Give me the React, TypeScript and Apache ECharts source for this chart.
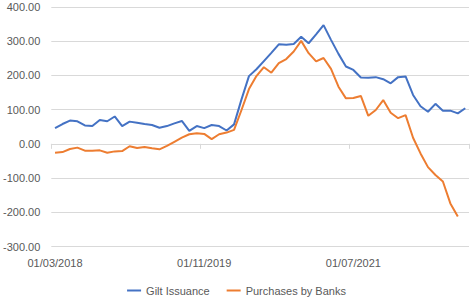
import React, { useEffect, useRef } from "react";
import * as echarts from "echarts";

const startYear = 2018;
const startMonth = 3;
const monthCount = 56;

const giltIssuance = [
  46, 58, 68, 66, 54, 52, 70, 66, 80, 52,
  65, 62, 58, 55, 47, 52, 60, 67, 38, 52,
  46, 55, 52, 39, 57, 130, 198, 218, 242, 266,
  291, 290, 292, 313, 294, 320, 347, 304, 263, 226,
  216, 194, 193, 195, 189, 177, 195, 197, 143, 110,
  94, 117, 97, 97, 89, 104,
];

const purchasesByBanks = [
  -26, -24, -15, -11, -20, -20, -19, -26, -22, -21,
  -7, -12, -9, -13, -16, -6, 6, 18, 28, 31,
  29, 14, 28, 33, 41, 99, 160, 198, 224, 208,
  236, 248, 270, 301, 265, 241, 251, 219, 167, 133,
  134, 140, 82, 99, 128, 91, 75, 84, 18, -28,
  -68, -91, -110, -174, -212, null,
];

const seriesNames = ["Gilt Issuance", "Purchases by Banks"];
const yMin = -300;
const yMax = 400;
const yStep = 100;

function buildCategories(): string[] {
  const out: string[] = [];
  for (let i = 0; i < monthCount; i++) {
    const m0 = startMonth - 1 + i;
    const y = startYear + Math.floor(m0 / 12);
    const m = (m0 % 12) + 1;
    out.push(`01/${String(m).padStart(2, "0")}/${y}`);
  }
  return out;
}

export default function App() {
  const ref = useRef<HTMLDivElement>(null);

  useEffect(() => {
    document.body.style.margin = "0";
    if (!ref.current) return;
    const chart = echarts.init(ref.current, undefined, { renderer: "svg" });
    const categories = buildCategories();
    const font = "'Liberation Sans', Arial, sans-serif";
    const textColor = "#595959";
    const gridColor = "#d9d9d9";

    chart.setOption({
      animation: false,
      grid: { left: 48, right: 4, top: 7, bottom: 51.5, containLabel: false },
      legend: {
        data: seriesNames,
        left: "center",
        top: 280,
        icon: "rect",
        itemWidth: 14,
        itemHeight: 2,
        itemGap: 17,
        textStyle: { color: textColor, fontSize: 11, fontFamily: font },
      },
      xAxis: [
        {
          type: "category",
          data: categories,
          boundaryGap: true,
          position: "bottom",
          axisLine: { show: true, onZero: true, lineStyle: { color: gridColor, width: 1 } },
          axisTick: { show: true, interval: 19, length: 5, alignWithLabel: false, lineStyle: { color: gridColor } },
          axisLabel: { show: false },
          splitLine: { show: false },
        },
        {
          type: "category",
          data: categories,
          boundaryGap: true,
          position: "bottom",
          axisLine: { show: false, onZero: false },
          axisTick: { show: false },
          axisLabel: {
            show: true,
            interval: 19,
            margin: 11,
            color: textColor,
            fontSize: 11,
            fontFamily: font,
          },
          splitLine: { show: false },
        },
      ],
      yAxis: {
        type: "value",
        min: yMin,
        max: yMax,
        interval: yStep,
        axisLine: { show: false },
        axisTick: { show: false },
        axisLabel: {
          margin: 11,
          color: textColor,
          fontSize: 11,
          fontFamily: font,
          formatter: (v: number) => v.toFixed(2),
        },
        splitLine: { show: true, lineStyle: { color: gridColor, width: 1 } },
      },
      series: [
        {
          name: seriesNames[0],
          type: "line",
          data: giltIssuance,
          xAxisIndex: 0,
          symbol: "none",
          lineStyle: { color: "#4472C4", width: 2 },
          itemStyle: { color: "#4472C4" },
        },
        {
          name: seriesNames[1],
          type: "line",
          data: purchasesByBanks,
          xAxisIndex: 0,
          symbol: "none",
          lineStyle: { color: "#ED7D31", width: 2 },
          itemStyle: { color: "#ED7D31" },
        },
      ],
    });

    return () => chart.dispose();
  }, []);

  return <div ref={ref} style={{ width: 473, height: 298 }} />;
}
